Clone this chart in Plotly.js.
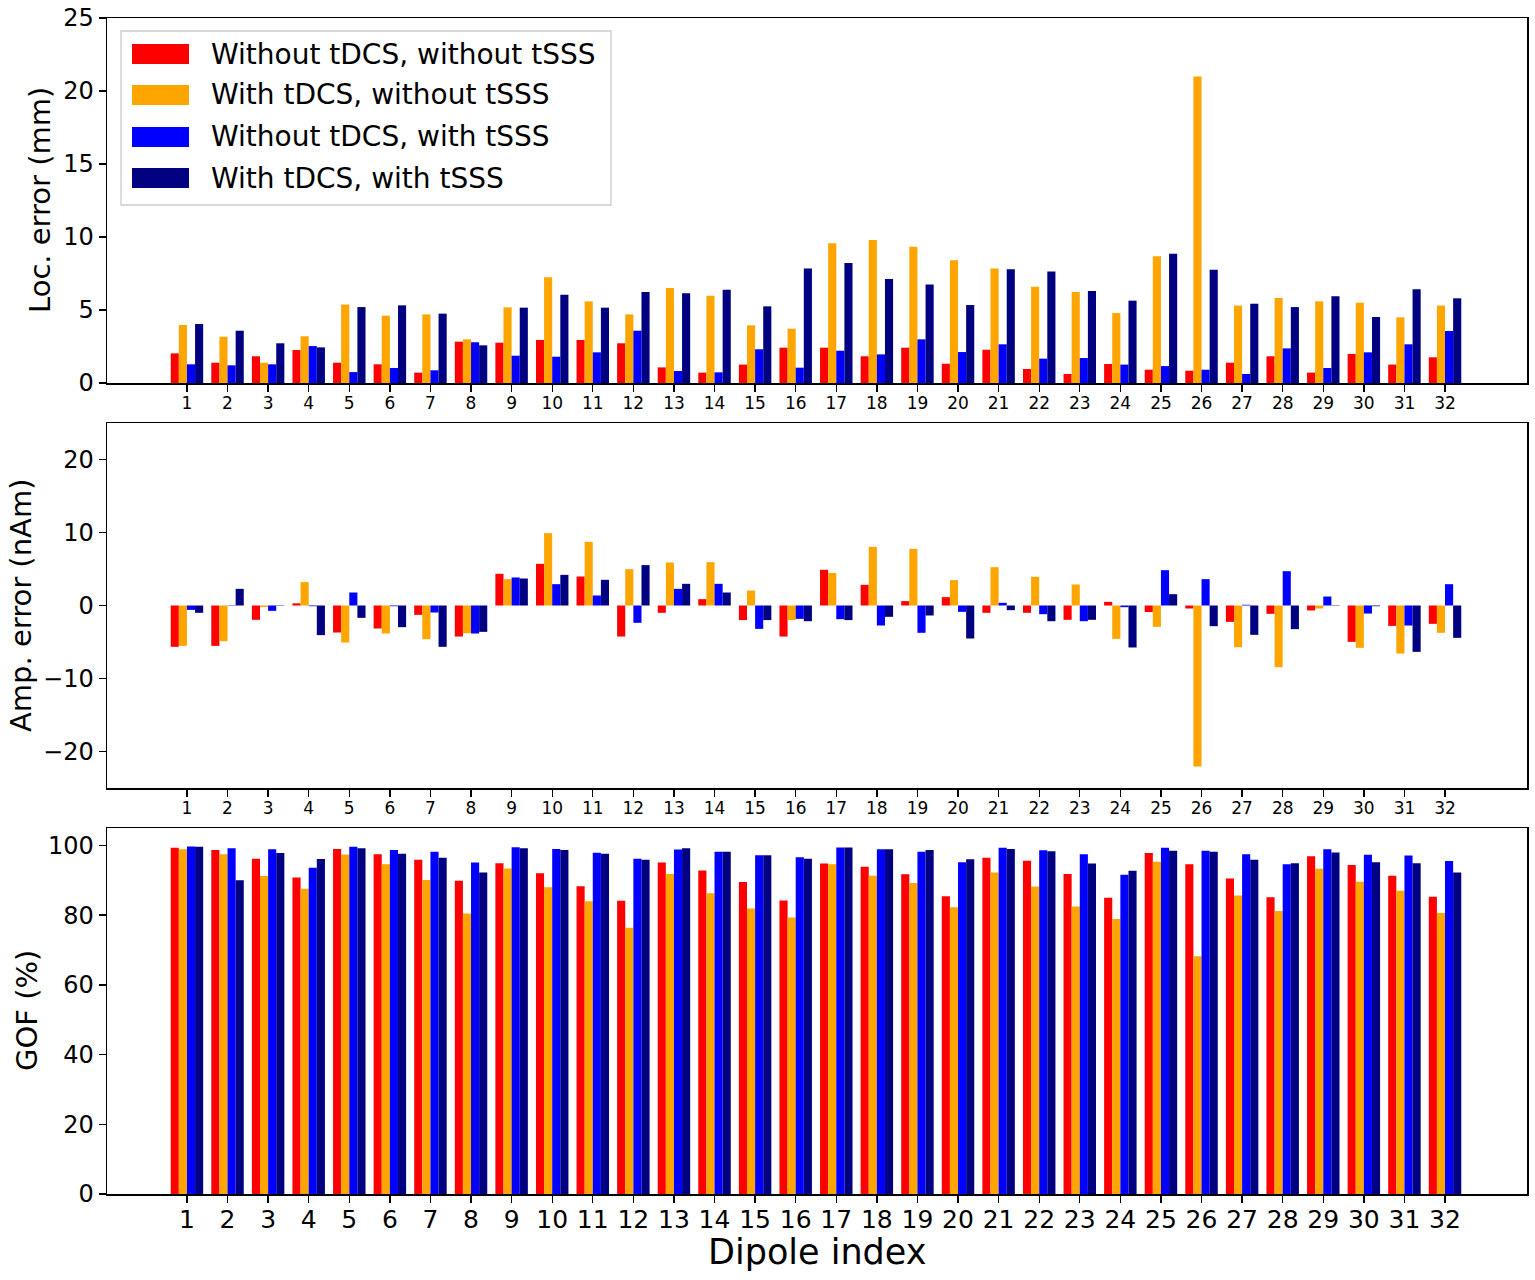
<!DOCTYPE html>
<html>
<head>
<meta charset="utf-8">
<script src="https://cdn.plot.ly/plotly-3.0.1.min.js"></script>
<style>
  body { margin: 0; background: #fff; }
  #graph { width: 1535px; height: 1280px; }
</style>
</head>
<body>
<div id="graph"></div>
<script>
// dipole indices and series names
var dipoles = [1,2,3,4,5,6,7,8,9,10,11,12,13,14,15,16,17,18,19,20,21,22,23,24,25,26,27,28,29,30,31,32];
var seriesNames = ["Without tDCS, without tSSS", "With tDCS, without tSSS", "Without tDCS, with tSSS", "With tDCS, with tSSS"];
var seriesColors = ["#ff0000", "#ffa500", "#0000ff", "#000080"];

// localisation error (mm)
var locNoTdcsNoTsss = [2.03,1.39,1.83,2.26,1.39,1.28,0.71,2.83,2.76,2.95,2.95,2.72,1.07,0.71,1.26,2.42,2.42,1.83,2.42,1.32,2.28,0.96,0.62,1.30,0.91,0.84,1.39,1.83,0.71,1.99,1.26,1.76];
var locTdcsNoTsss   = [3.97,3.17,1.39,3.20,5.37,4.61,4.70,2.99,5.18,7.24,5.59,4.70,6.50,5.98,3.95,3.72,9.57,9.79,9.34,8.40,7.85,6.60,6.23,4.79,8.68,21.0,5.30,5.82,5.59,5.50,4.50,5.30];
var locNoTdcsTsss   = [1.28,1.21,1.28,2.53,0.75,1.03,0.87,2.79,1.87,1.80,2.10,3.58,0.82,0.73,2.31,1.05,2.21,1.96,2.99,2.12,2.65,1.67,1.71,1.26,1.16,0.91,0.62,2.37,1.03,2.10,2.65,3.56];
var locTdcsTsss     = [4.04,3.58,2.72,2.44,5.20,5.32,4.75,2.58,5.16,6.05,5.16,6.23,6.14,6.39,5.25,7.85,8.22,7.12,6.74,5.34,7.79,7.63,6.30,5.64,8.86,7.76,5.43,5.20,5.94,4.52,6.42,5.80];

// amplitude error (nAm)
var ampNoTdcsNoTsss = [-5.66,-5.53,-1.96,0.30,-3.70,-3.15,-1.28,-4.25,4.34,5.71,3.97,-4.25,-1.00,0.87,-2.00,-4.25,4.89,2.83,0.60,1.14,-1.00,-1.00,-1.96,0.50,-0.90,-0.41,-2.24,-1.14,-0.68,-4.98,-2.79,-2.51];
var ampTdcsNoTsss   = [-5.53,-4.89,-0.20,3.20,-5.07,-3.84,-4.61,-3.79,3.61,9.91,8.72,4.98,5.89,5.94,2.05,-2.00,4.47,8.04,7.76,3.47,5.25,3.93,2.88,-4.57,-2.92,-22.05,-5.71,-8.45,-0.41,-5.80,-6.58,-3.74];
var ampNoTdcsTsss   = [-0.60,-0.05,-0.73,-0.10,1.78,-0.10,-0.96,-3.84,3.84,2.92,1.37,-2.37,2.28,2.97,-3.20,-1.83,-1.87,-2.74,-3.74,-0.87,0.37,-1.19,-2.15,-0.23,4.84,3.61,0.10,4.70,1.23,-1.10,-2.74,2.92];
var ampTdcsTsss     = [-1.00,2.28,-0.05,-4.06,-1.69,-2.97,-5.66,-3.61,3.70,4.20,3.52,5.53,2.97,1.78,-2.00,-2.15,-2.00,-1.55,-1.37,-4.52,-0.64,-2.15,-1.96,-5.75,1.55,-2.83,-4.02,-3.24,0.05,-0.10,-6.35,-4.43];

// goodness of fit (%)
var gofNoTdcsNoTsss = [99.3,98.7,96.2,90.8,99.0,97.5,95.9,89.9,94.9,92.0,88.3,84.1,95.1,92.8,89.5,84.2,94.8,93.9,91.7,85.4,96.5,95.6,91.8,85.0,97.8,94.6,90.5,85.1,96.9,94.4,91.3,85.3];
var gofTdcsNoTsss   = [98.9,97.5,91.2,87.6,97.4,94.6,90.1,80.5,93.4,88.0,84.0,76.4,91.8,86.3,81.9,79.3,94.6,91.3,89.2,82.3,92.2,88.2,82.5,78.9,95.3,68.2,85.6,81.2,93.3,89.6,87.0,80.6];
var gofNoTdcsTsss   = [99.7,99.2,98.9,93.6,99.6,98.7,98.2,95.1,99.5,99.0,97.9,96.2,98.8,98.2,97.2,96.6,99.4,98.9,98.2,95.2,99.3,98.6,97.5,91.6,99.3,98.5,97.5,94.6,98.9,97.3,97.1,95.5];
var gofTdcsTsss     = [99.6,90.0,97.8,96.1,99.2,97.6,96.5,92.2,99.2,98.7,97.6,95.9,99.2,98.2,97.2,96.2,99.4,98.9,98.7,96.0,99.0,98.3,94.8,92.7,98.5,98.2,95.9,94.9,98.0,95.2,94.9,92.2];

var FONT = "DejaVu Sans, sans-serif";

var panels = [
  { xa: "x",  ya: "y",  series: [locNoTdcsNoTsss, locTdcsNoTsss, locNoTdcsTsss, locTdcsTsss] },
  { xa: "x2", ya: "y2", series: [ampNoTdcsNoTsss, ampTdcsNoTsss, ampNoTdcsTsss, ampTdcsTsss] },
  { xa: "x3", ya: "y3", series: [gofNoTdcsNoTsss, gofTdcsNoTsss, gofNoTdcsTsss, gofTdcsTsss] }
];

var data = [];
panels.forEach(function (p) {
  p.series.forEach(function (vals, i) {
    data.push({
      type: "bar",
      x: dipoles,
      y: vals,
      xaxis: p.xa,
      yaxis: p.ya,
      name: seriesNames[i],
      marker: { color: seriesColors[i], line: { width: 0 } },
      showlegend: false,
      hoverinfo: "skip"
    });
  });
});

// plot area in pixels: left 107, right 1527, top 18, bottom 1194
var L = 107, R = 1527, T = 18, B = 1194;
function px(v) { return (v - L) / (R - L); }
function py(v) { return (B - v) / (B - T); }

function xAxis(tickSize, standoff) {
  return {
    range: [-0.97, 34.02],
    tickmode: "array",
    tickvals: dipoles,
    ticktext: dipoles.map(String),
    ticks: "outside",
    ticklen: 7,
    tickwidth: 1.3,
    tickcolor: "#000",
    ticklabelstandoff: standoff,
    tickfont: { family: FONT, size: tickSize, color: "#000" },
    showline: true,
    mirror: true,
    linecolor: "#000",
    linewidth: 1.5,
    showgrid: false,
    zeroline: false,
    fixedrange: true
  };
}

function yAxis(domain, range, dtick) {
  return {
    domain: domain,
    range: range,
    dtick: dtick,
    tick0: 0,
    ticks: "outside",
    ticklen: 7,
    tickwidth: 1.3,
    tickcolor: "#000",
    tickfont: { family: FONT, size: 24, color: "#000" },
    showline: true,
    mirror: true,
    linecolor: "#000",
    linewidth: 1.5,
    showgrid: false,
    zeroline: false,
    fixedrange: true
  };
}

// legend drawn by hand so the swatches are wide like the original
var shapes = [{
  type: "rect", xref: "paper", yref: "paper",
  x0: px(121), x1: px(611), y0: py(205), y1: py(31),
  line: { color: "#cccccc", width: 1.3 }, fillcolor: "rgba(255,255,255,0.8)"
}];
var annotations = [];
var rowY = [54, 95, 137, 178];
seriesNames.forEach(function (n, i) {
  shapes.push({
    type: "rect", xref: "paper", yref: "paper",
    x0: px(132), x1: px(189), y0: py(rowY[i] + 10), y1: py(rowY[i] - 10),
    line: { width: 0 }, fillcolor: seriesColors[i]
  });
  annotations.push({
    xref: "paper", yref: "paper", x: px(209), y: py(rowY[i]),
    xanchor: "left", yanchor: "middle", showarrow: false,
    text: n, font: { family: FONT, size: 28, color: "#000" }
  });
});

// axis titles placed like the original
var yTitles = [
  { text: "Loc. error (mm)", x: 40, y: 200 },
  { text: "Amp. error (nAm)", x: 21, y: 606 },
  { text: "GOF (%)", x: 27, y: 1011 }
];
yTitles.forEach(function (t) {
  annotations.push({
    xref: "paper", yref: "paper", x: px(t.x), y: py(t.y),
    xanchor: "center", yanchor: "middle", textangle: -90, showarrow: false,
    text: t.text, font: { family: FONT, size: 29, color: "#000" }
  });
});
annotations.push({
  xref: "paper", yref: "paper", x: px(817), y: py(1252),
  xanchor: "center", yanchor: "middle", showarrow: false,
  text: "Dipole index", font: { family: FONT, size: 35, color: "#000" }
});

var layout = {
  width: 1535,
  height: 1280,
  margin: { l: L, r: 1535 - R, t: T, b: 1280 - B },
  paper_bgcolor: "#fff",
  plot_bgcolor: "#fff",
  barmode: "group",
  bargap: 0.2,
  bargroupgap: 0,
  showlegend: false,
  font: { family: FONT, color: "#000" },
  xaxis:  Object.assign(xAxis(17, -3), { anchor: "y" }),
  xaxis2: Object.assign(xAxis(17, -3), { anchor: "y2" }),
  xaxis3: Object.assign(xAxis(25, -5), { anchor: "y3" }),
  yaxis:  Object.assign(yAxis([py(383), 1], [0, 25], 5), { anchor: "x" }),
  yaxis2: Object.assign(yAxis([py(788), py(423)], [-25, 25], 10), { anchor: "x2" }),
  yaxis3: Object.assign(yAxis([0, py(828)], [0, 105], 20), { anchor: "x3" }),
  shapes: shapes,
  annotations: annotations
};

Plotly.newPlot("graph", data, layout, { displayModeBar: false, staticPlot: true });
</script>
</body>
</html>
